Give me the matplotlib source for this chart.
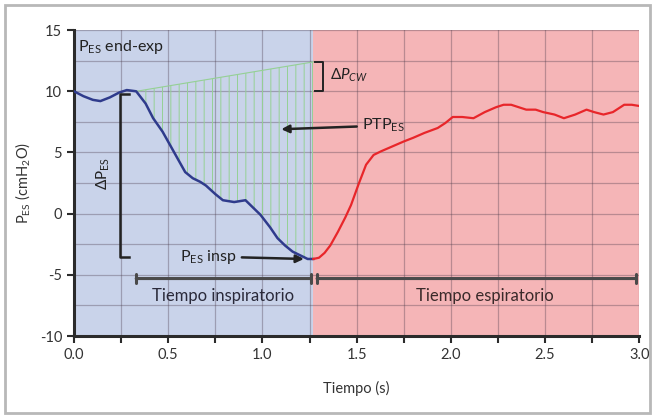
import numpy as np
import matplotlib
matplotlib.use('Agg')
import matplotlib.pyplot as plt
from matplotlib.patches import Rectangle

plt.rcParams['font.family'] = ['Lato', 'DejaVu Sans']
plt.rcParams['mathtext.fontset'] = 'custom'
plt.rcParams['mathtext.rm'] = 'Lato'
plt.rcParams['mathtext.it'] = 'Lato:italic'
plt.rcParams['axes.unicode_minus'] = False

# Datos
t_insp = [0.00, 0.05, 0.10, 0.14, 0.19, 0.24, 0.28, 0.33, 0.38, 0.42, 0.47, 0.51,
          0.55, 0.59, 0.63, 0.67, 0.70, 0.75, 0.79, 0.85, 0.91, 0.95, 0.99,
          1.04, 1.08, 1.12, 1.16, 1.20, 1.24, 1.27]
p_insp = [10.0, 9.6, 9.3, 9.2, 9.5, 9.9, 10.1, 10.0, 9.0, 7.8, 6.7, 5.6,
          4.5, 3.4, 2.9, 2.6, 2.3, 1.6, 1.1, 0.95, 1.1, 0.5, -0.1,
          -1.1, -2.0, -2.6, -3.1, -3.4, -3.7, -3.7]

t_esp = [1.27, 1.30, 1.33, 1.36, 1.40, 1.44, 1.47, 1.51, 1.55, 1.59, 1.63, 1.69,
         1.75, 1.80, 1.86, 1.93, 1.97, 2.01, 2.06, 2.12, 2.18, 2.24, 2.28,
         2.32, 2.36, 2.40, 2.45, 2.49, 2.55, 2.60, 2.66, 2.72, 2.76, 2.81,
         2.86, 2.92, 2.96, 3.00]
p_esp = [-3.7, -3.6, -3.2, -2.6, -1.5, -0.3, 0.7, 2.4, 4.0, 4.8, 5.1, 5.5,
         5.9, 6.2, 6.6, 7.0, 7.4, 7.9, 7.9, 7.8, 8.3, 8.7, 8.9,
         8.9, 8.7, 8.5, 8.5, 8.3, 8.1, 7.8, 8.1, 8.5, 8.3, 8.1,
         8.3, 8.9, 8.9, 8.8]

t_fin_insp = 1.27
cw_t = [0.33, 1.27]
cw_p = [10.0, 12.4]

azul_fondo = '#c9d3ea'
rojo_fondo = '#f5b5b7'
verde = '#95d095'

fig = plt.figure(figsize=(6.55, 4.18), dpi=100)
ax = fig.add_axes([0.113, 0.196, 0.863, 0.732])

ax.axvspan(0, t_fin_insp, color=azul_fondo, lw=0, zorder=0)
ax.axvspan(t_fin_insp, 3.0, color=rojo_fondo, lw=0, zorder=0)

ax.set_xlim(0, 3.0)
ax.set_ylim(-10, 15)
ax.set_xticks(np.arange(0, 3.01, 0.5))
ax.set_xticks(np.arange(0.25, 3.0, 0.5), minor=True)
ax.set_yticks([-10, -5, 0, 5, 10, 15])
ax.set_yticks([-7.5, -2.5, 2.5, 7.5, 12.5], minor=True)
ax.set_xticklabels(['0.0', '0.5', '1.0', '1.5', '2.0', '2.5', '3.0'])
ax.grid(which='both', color='#4a3a4a', alpha=0.35, lw=0.9, zorder=1)
ax.set_axisbelow(True)

for s in ['top', 'right']:
    ax.spines[s].set_visible(False)
for s in ['left', 'bottom']:
    ax.spines[s].set_color('#2b2b2b')
    ax.spines[s].set_linewidth(2.2)
ax.tick_params(which='both', direction='out', length=5, width=1.5, color='#2b2b2b',
               labelsize=10.5, labelcolor='#333333')
ax.tick_params(axis='y', which='minor', length=0)

# zona PTP rayada
plt.rcParams['hatch.linewidth'] = 0.7
t_arr = np.array(t_insp)
p_arr = np.array(p_insp)
linea_cw = np.interp(t_arr, cw_t, cw_p)
ax.fill_between(t_arr, p_arr, linea_cw, where=t_arr >= cw_t[0], facecolor='none',
                edgecolor=verde, hatch='||', lw=0, zorder=2)
ax.plot(cw_t, cw_p, color=verde, lw=0.8, zorder=2)

ax.plot(t_insp, p_insp, color='#2f3b8c', lw=1.8, zorder=4)
ax.plot(t_esp, p_esp, color='#e8262a', lw=1.6, zorder=4)

ax.set_xlabel('Tiempo (s)', fontsize=10.5, color='#333333', labelpad=14)
ax.set_ylabel(r'P$_\mathrm{ES}$ (cmH$_2$O)', fontsize=10.5, color='#333333', labelpad=6)

oscuro = '#222222'
ax.text(0.02, 13.6, r'P$_\mathrm{ES}$ end-exp', fontsize=11.5, color=oscuro, va='center')

# corchete delta P_CW
ax.plot([1.28, 1.32, 1.32, 1.28], [12.4, 12.4, 10.0, 10.0], color=oscuro, lw=1.4, zorder=5)
ax.text(1.36, 11.3, r'$\Delta P_{CW}$', fontsize=11, color=oscuro, va='center')

# corchete delta P_ES
ax.plot([0.29, 0.245, 0.245, 0.29], [9.8, 9.8, -3.5, -3.5], color=oscuro, lw=1.8, zorder=5)
ax.text(0.155, 3.3, r'$\Delta$P$_\mathrm{ES}$', fontsize=11, color=oscuro, rotation=90,
        ha='center', va='center')

ax.annotate(r'PTP$_\mathrm{ES}$', xy=(1.10, 6.9), xytext=(1.53, 7.2), fontsize=11.5,
            color=oscuro, va='center',
            arrowprops=dict(arrowstyle='-|>', color=oscuro, lw=1.8, shrinkA=2, shrinkB=0))
ax.annotate(r'P$_\mathrm{ES}$ insp', xy=(1.22, -3.7), xytext=(0.56, -3.5), fontsize=11.5,
            color=oscuro, va='center',
            arrowprops=dict(arrowstyle='-|>', color=oscuro, lw=1.8, shrinkA=2, shrinkB=0))

# intervalos de tiempo
ax.annotate('', xy=(0.33, -5.3), xytext=(1.26, -5.3),
            arrowprops=dict(arrowstyle='|-|,widthA=0.3,widthB=0.3', color='#4a4a4a', lw=2.2,
                            shrinkA=0, shrinkB=0), zorder=5)
ax.annotate('', xy=(1.29, -5.3), xytext=(2.98, -5.3),
            arrowprops=dict(arrowstyle='|-|,widthA=0.3,widthB=0.3', color='#4a4a4a', lw=2.2,
                            shrinkA=0, shrinkB=0), zorder=5)
ax.text(0.79, -6.7, 'Tiempo inspiratorio', fontsize=12, color='#2a2a3a', ha='center', va='center')
ax.text(2.18, -6.7, 'Tiempo espiratorio', fontsize=12, color='#3a2a2a', ha='center', va='center')

fig.patches.append(Rectangle((0.008, 0.012), 0.985, 0.975, transform=fig.transFigure,
                             fill=False, edgecolor='#b8b8b8', lw=2))

fig.savefig('out.png', dpi=100)
